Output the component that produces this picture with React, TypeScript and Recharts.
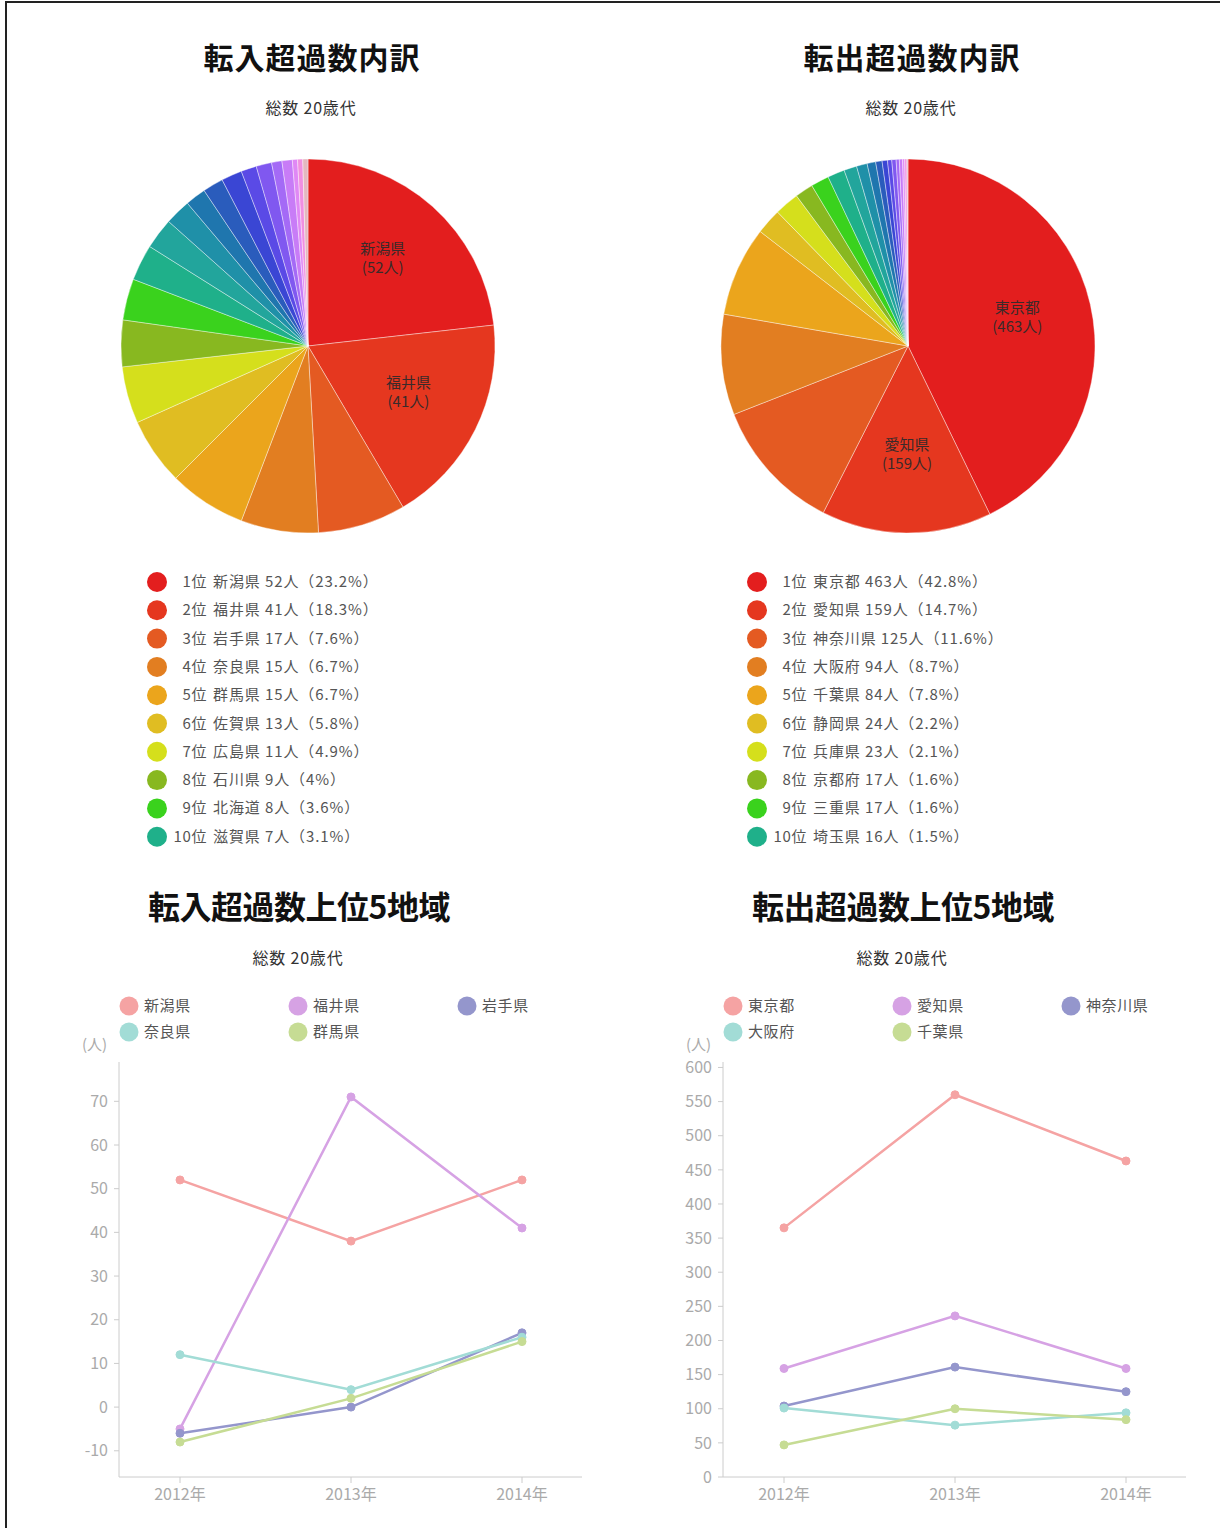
import React from 'react';
import { PieChart, Pie, Cell, LineChart, Line, XAxis, YAxis } from 'recharts';

// 円グラフ（転入・転出の内訳）
const inNames = ['新潟県', '福井県', '岩手県', '奈良県', '群馬県', '佐賀県', '広島県', '石川県', '北海道', '滋賀県'];
const inValues = [52, 41, 17, 15, 15, 13, 11, 9, 8, 7, 6, 5, 4, 4, 4, 3, 3, 2, 2, 1, 1, 1];
const outNames = ['東京都', '愛知県', '神奈川県', '大阪府', '千葉県', '静岡県', '兵庫県', '京都府', '三重県', '埼玉県'];
const outValues = [463, 159, 125, 94, 84, 24, 23, 17, 17, 16, 12, 10, 8, 6, 5, 4, 4, 3, 3, 2, 2, 1];

const sliceColors = [
  '#e31e1e', '#e5371f', '#e45a22', '#e27e21', '#eba51c', '#e0bd22', '#d5df1c', '#88b820',
  '#3ad21d', '#1fb08a', '#22a59c', '#1f90a8', '#1f76ae', '#2a5cbc', '#3a46d4', '#5a4ae6',
  '#8058f0', '#a46af6', '#c87cf7', '#e088f5', '#f08fe0', '#e4b8c0',
];

// 折れ線グラフ（上位5地域）
const years = ['2012年', '2013年', '2014年'];
const inTopNames = ['新潟県', '福井県', '岩手県', '奈良県', '群馬県'];
const inTopValues = [
  [52, 38, 52],
  [-5, 71, 41],
  [-6, 0, 17],
  [12, 4, 16],
  [-8, 2, 15],
];
const outTopNames = ['東京都', '愛知県', '神奈川県', '大阪府', '千葉県'];
const outTopValues = [
  [365, 560, 463],
  [159, 236, 159],
  [104, 161, 125],
  [101, 76, 94],
  [47, 100, 84],
];
const inTicks = [-10, 0, 10, 20, 30, 40, 50, 60, 70];
const outTicks = [0, 50, 100, 150, 200, 250, 300, 350, 400, 450, 500, 550, 600];
const lineColors = ['#f5a3a3', '#d6a2e4', '#9496cc', '#a2dcd6', '#c6dc94'];

const FONT = '"Noto Sans CJK JP", "Noto Sans", sans-serif';
const RAD = Math.PI / 180;

const buildPie = (names: string[], values: number[]) =>
  values.map((v, i) => ({ name: names[i] ?? `${i + 1}位`, value: v }));

const buildLines = (names: string[], values: number[][]) =>
  years.map((y, j) => {
    const row: any = { year: y };
    names.forEach((n, k) => { row[n] = values[k][j]; });
    return row;
  });

const renderPieLabel = (props: any) => {
  const { cx, cy, midAngle, outerRadius, index, name, value } = props;
  if (index > 1) return null;
  const r = outerRadius * 0.6;
  const x = cx + r * Math.cos(-midAngle * RAD);
  const y = cy + r * Math.sin(-midAngle * RAD);
  return (
    <text x={x} y={y} textAnchor="middle" fill="#3a2a2a" fontSize={15} fontFamily={FONT}>
      <tspan x={x} dy={-8}>{name}</tspan>
      <tspan x={x} dy={19}>({value}人)</tspan>
    </text>
  );
};

function PiePanel({ left, title, names, values }: { left: number; title: string; names: string[]; values: number[] }) {
  const data = buildPie(names, values);
  const total = values.reduce((a, b) => a + b, 0);
  return (
    <div style={{ position: 'absolute', left, top: 0, width: 616, height: 860 }}>
      <div style={{ position: 'absolute', left: 0, width: 624, top: 36, textAlign: 'center', fontSize: 30, fontWeight: 700, letterSpacing: 1, color: '#111', lineHeight: '40px' }}>
        {title}
      </div>
      <div style={{ position: 'absolute', left: 0, width: 622, top: 96, textAlign: 'center', fontSize: 16, letterSpacing: 0.8, color: '#333', lineHeight: '22px' }}>
        総数 20歳代
      </div>
      <div style={{ position: 'absolute', left: 0, top: 0 }}>
        <PieChart width={616} height={560}>
          <Pie
            data={data}
            dataKey="value"
            nameKey="name"
            cx={303}
            cy={341}
            outerRadius={187}
            startAngle={90}
            endAngle={-270}
            stroke="#fff"
            strokeWidth={0.4}
            label={renderPieLabel}
            labelLine={false}
            isAnimationActive={false}
          >
            {data.map((d, i) => (
              <Cell key={d.name} fill={sliceColors[i % sliceColors.length]} />
            ))}
          </Pie>
        </PieChart>
      </div>
      <svg style={{ position: 'absolute', left: 0, top: 560 }} width={616} height={300}>
        {names.map((n, i) => {
          const y = 22 + i * 28.3;
          const pct = Math.round((values[i] / total) * 1000) / 10;
          return (
            <g key={n}>
              <circle cx={157} cy={y} r={10} fill={sliceColors[i]} />
              <text x={207} y={y + 5} textAnchor="end" fontSize={15} letterSpacing={0.6} fill="#555">{i + 1}位</text>
              <text x={213} y={y + 5} fontSize={15} letterSpacing={0.9} fill="#555">{`${n} ${values[i]}人（${pct}%）`}</text>
            </g>
          );
        })}
      </svg>
    </div>
  );
}

function LinePanel({ left, title, names, values, ticks, domain }: {
  left: number; title: string; names: string[]; values: number[][]; ticks: number[]; domain: [number, number];
}) {
  const data = buildLines(names, values);
  return (
    <div style={{ position: 'absolute', left, top: 870, width: 600, height: 658 }}>
      <div style={{ position: 'absolute', left: 0, width: 598, top: 14, textAlign: 'center', fontSize: 32, fontWeight: 700, letterSpacing: -0.5, color: '#111', lineHeight: '42px' }}>
        {title}
      </div>
      <div style={{ position: 'absolute', left: 0, width: 596, top: 76, textAlign: 'center', fontSize: 16, letterSpacing: 0.8, color: '#333', lineHeight: '22px' }}>
        総数 20歳代
      </div>
      <svg style={{ position: 'absolute', left: 0, top: 120 }} width={600} height={70}>
        {names.map((n, i) => {
          const cx = 129 + (i % 3) * 169;
          const cy = 16 + Math.floor(i / 3) * 26;
          return (
            <g key={n}>
              <circle cx={cx} cy={cy} r={9.5} fill={lineColors[i]} />
              <text x={cx + 15} y={cy + 5} fontSize={15} letterSpacing={0.6} fill="#555">{n}</text>
            </g>
          );
        })}
        <text x={82} y={60} fontSize={15} fill="#aaa">(人)</text>
      </svg>
      <div style={{ position: 'absolute', left: 0, top: 170 }}>
        <LineChart width={600} height={488} data={data} margin={{ top: 22, right: 18, bottom: 21, left: 59 }}>
          <XAxis
            dataKey="year"
            padding={{ left: 61, right: 60 }}
            stroke="#ccc"
            tick={{ fill: '#aaa', fontSize: 16 }}
            tickSize={6}
            tickMargin={6}
            height={30}
          />
          <YAxis
            domain={domain}
            ticks={ticks}
            interval={0}
            stroke="#ccc"
            tick={{ fill: '#aaa', fontSize: 16 }}
            tickSize={5}
            tickMargin={6}
            width={60}
          />
          {names.map((n, i) => (
            <Line
              key={n}
              type="linear"
              dataKey={n}
              stroke={lineColors[i]}
              strokeWidth={2.5}
              dot={{ r: 4, fill: lineColors[i], stroke: lineColors[i], strokeWidth: 1 }}
              isAnimationActive={false}
            />
          ))}
        </LineChart>
      </div>
    </div>
  );
}

export default function App() {
  return (
    <div style={{ position: 'absolute', left: 0, top: 0, width: 1220, height: 1528, overflow: 'hidden', background: '#fff', fontFamily: FONT }}>
      <div style={{ position: 'absolute', left: 5, top: 1, width: 1300, height: 1600, borderLeft: '2px solid #222', borderTop: '2px solid #222' }} />
      <PiePanel left={0} title="転入超過数内訳" names={inNames} values={inValues} />
      <PiePanel left={600} title="転出超過数内訳" names={outNames} values={outValues} />
      <LinePanel left={0} title="転入超過数上位5地域" names={inTopNames} values={inTopValues} ticks={inTicks} domain={[-16, 79]} />
      <LinePanel left={604} title="転出超過数上位5地域" names={outTopNames} values={outTopValues} ticks={outTicks} domain={[0, 608]} />
    </div>
  );
}
